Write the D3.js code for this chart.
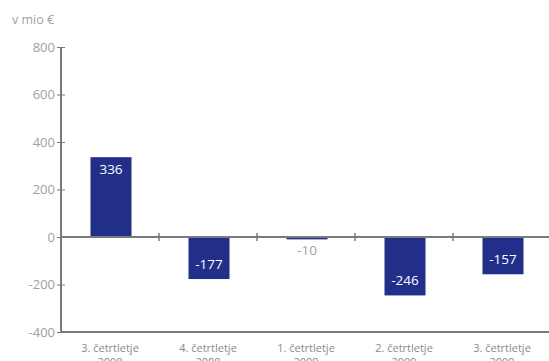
<!DOCTYPE html>
<html>
<head>
<meta charset="utf-8">
<script src="https://cdn.jsdelivr.net/npm/d3@7"></script>
<style>
  html, body { margin: 0; padding: 0; background: #fff; }
  svg { display: block; font-family: "Open Sans", "DejaVu Sans", sans-serif; }
</style>
</head>
<body>
<svg id="chart" width="549" height="361"></svg>
<script>
// Quarterly values, million EUR
const quarters = ["3. četrtletje", "4. četrtletje", "1. četrtletje", "2. četrtletje", "3. četrtletje"];
const years = ["2008", "2008", "2009", "2009", "2009"];
const values = [336, -177, -10, -246, -157];
const yTicks = [800, 600, 400, 200, 0, -200, -400];
const unitLabel = "v mio €";

const svg = d3.select("#chart");
const plotLeft = 61, plotRight = 551, plotTop = 47, plotBottom = 332;

const y = d3.scaleLinear().domain([-400, 800]).range([plotBottom, plotTop]);
const x = d3.scaleBand().domain(d3.range(values.length)).range([plotLeft, plotRight]).padding(0);
const barW = 41;

const axisColor = "#7a7a7a";
const textGrey = "#a0a0a0";
const barColor = "#212f8b";

// Unit label
svg.append("text").attr("x", 12).attr("y", 24)
  .attr("fill", textGrey).attr("font-size", 12.5).text(unitLabel);

// Bars
svg.append("g").selectAll("rect").data(values).join("rect")
  .attr("x", (d, i) => x(i) + x.bandwidth() / 2 - barW / 2 + 1)
  .attr("width", barW)
  .attr("y", d => y(Math.max(0, d)))
  .attr("height", d => Math.abs(y(d) - y(0)))
  .attr("fill", barColor);

// Y axis
const yAxis = d3.axisLeft(y).tickValues(yTicks).tickSize(4).tickPadding(3).tickFormat(d => String(d));
const gy = svg.append("g").attr("transform", `translate(${plotLeft},0)`).call(yAxis);
gy.select(".domain").remove();
gy.selectAll(".tick line").attr("stroke", axisColor).attr("x2", -4).attr("x1", 4).attr("stroke-width", 1);
gy.selectAll(".tick text").attr("fill", textGrey).attr("font-size", 13)
  .attr("font-family", "'Open Sans', sans-serif").attr("x", -6);
svg.append("line").attr("x1", plotLeft).attr("x2", plotLeft).attr("y1", plotTop).attr("y2", plotBottom)
  .attr("stroke", axisColor).attr("stroke-width", 2);

// Zero line with band separators
svg.append("line").attr("x1", plotLeft).attr("x2", 549).attr("y1", y(0)).attr("y2", y(0))
  .attr("stroke", axisColor).attr("stroke-width", 2);
svg.append("g").selectAll("line").data(d3.range(1, values.length)).join("line")
  .attr("x1", i => x(i)).attr("x2", i => x(i))
  .attr("y1", y(0) - 4).attr("y2", y(0) + 4)
  .attr("stroke", axisColor).attr("stroke-width", 1.5);

// Bottom axis line
svg.append("line").attr("x1", plotLeft - 1).attr("x2", 549).attr("y1", plotBottom).attr("y2", plotBottom)
  .attr("stroke", axisColor).attr("stroke-width", 2);

// Category labels (two lines: quarter and year)
const cat = svg.append("g").selectAll("text").data(quarters).join("text")
  .attr("x", (d, i) => x(i) + x.bandwidth() / 2)
  .attr("y", 352)
  .attr("text-anchor", "middle")
  .attr("fill", "#8a8a8a").attr("font-size", 11);
cat.append("tspan").text(d => d);
cat.append("tspan").attr("x", (d, i) => x(i) + x.bandwidth() / 2).attr("dy", 14).text((d, i) => years[i]);

// Value labels
svg.append("g").selectAll("text").data(values).join("text")
  .attr("x", (d, i) => x(i) + x.bandwidth() / 2 + 1)
  .attr("y", d => {
    if (d >= 0) return y(d) + 17;
    if (Math.abs(y(d) - y(0)) < 25) return y(d) + 16;
    return y(d) - 10;
  })
  .attr("text-anchor", "middle")
  .attr("fill", d => Math.abs(y(d) - y(0)) < 25 ? textGrey : "#fff")
  .attr("font-size", 13.5)
  .text(d => d);
</script>
</body>
</html>
